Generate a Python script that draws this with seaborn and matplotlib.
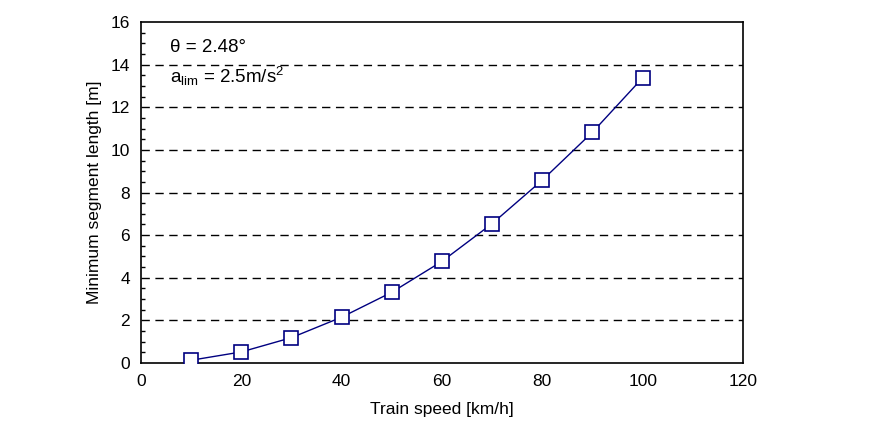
import pandas as pd
import matplotlib.pyplot as plt
import seaborn as sns
from matplotlib.ticker import MultipleLocator

# Data
speed = [10, 20, 30, 40, 50, 60, 70, 80, 90, 100]
seg_len = [0.13, 0.52, 1.19, 2.15, 3.32, 4.77, 6.54, 8.58, 10.83, 13.38]

df = pd.DataFrame({'speed': speed, 'length': seg_len})

sns.set_style('white')
plt.rcParams['font.family'] = ['Liberation Sans', 'DejaVu Sans']
plt.rcParams['mathtext.fontset'] = 'custom'
plt.rcParams['mathtext.rm'] = 'Liberation Sans'
plt.rcParams['mathtext.it'] = 'Liberation Sans'
plt.rcParams['text.color'] = 'black'
plt.rcParams['axes.labelcolor'] = 'black'

fig = plt.figure(figsize=(8.9, 4.38), dpi=100)
ax = fig.add_axes([0.1584, 0.1712, 0.8348 - 0.1584, 0.9498 - 0.1712])

sns.lineplot(x='speed', y='length', data=df, ax=ax, color='#000080', linewidth=1,
             marker='s', markersize=10, markerfacecolor='white',
             markeredgecolor='#000080', markeredgewidth=1.2, zorder=3)

ax.set_xlim(0, 120)
ax.set_ylim(0, 16)
ax.xaxis.set_major_locator(MultipleLocator(20))
ax.yaxis.set_major_locator(MultipleLocator(2))
ax.yaxis.set_minor_locator(MultipleLocator(0.5))

# dashed grid at interior major ticks
for y in range(2, 16, 2):
    ax.axhline(y, color='black', linestyle=(0, (6, 4)), linewidth=1, zorder=1)

ax.tick_params(axis='both', which='both', direction='in', labelsize=12.5,
               colors='black', labelcolor='black')
ax.tick_params(axis='both', which='major', length=6, width=1, pad=8)
ax.tick_params(axis='y', which='minor', length=3, width=1, left=True)
ax.tick_params(axis='x', which='minor', bottom=False)

for s in ax.spines.values():
    s.set_visible(True)
    s.set_color('black')
    s.set_linewidth(1.2)

ax.set_xlabel('Train speed [km/h]', fontsize=12.5, labelpad=9)
ax.set_ylabel('Minimum segment length [m]', fontsize=12.5, labelpad=6)

ax.text(0.048, 0.925, 'θ = 2.48°', transform=ax.transAxes, fontsize=13.5, va='center')
ax.text(0.048, 0.84, r'a$_{\mathrm{lim}}$ = 2.5m/s$^2$', transform=ax.transAxes,
        fontsize=13.5, va='center')

fig.savefig('out.png', dpi=100)
